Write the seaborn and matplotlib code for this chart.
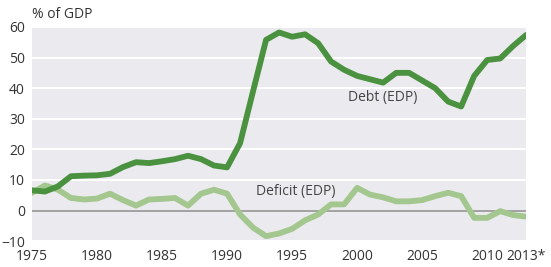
import matplotlib.pyplot as plt
import pandas as pd
import seaborn as sns

years = list(range(1975, 2014))
debt = [6.6, 6.2, 7.9, 11.2, 11.4, 11.5, 12.0, 14.2, 15.8, 15.5,
        16.1, 16.8, 17.9, 16.8, 14.7, 14.1, 22.0, 39.0, 55.8, 58.2,
        56.8, 57.6, 54.7, 48.7, 46.0, 44.0, 42.9, 41.8, 45.0, 45.0,
        42.5, 40.0, 35.6, 34.0, 44.0, 49.2, 49.7, 53.8, 57.4]
deficit = [5.8, 8.2, 6.8, 4.1, 3.6, 3.9, 5.5, 3.4, 1.6, 3.6,
           3.8, 4.1, 1.6, 5.5, 6.8, 5.5, -1.3, -5.6, -8.4, -7.5,
           -6.0, -3.2, -1.3, 2.0, 2.0, 7.4, 5.2, 4.3, 3.0, 3.0,
           3.4, 4.7, 5.8, 4.7, -2.4, -2.4, -0.2, -1.5, -2.0]
xticks = [1975, 1980, 1985, 1990, 1995, 2000, 2005, 2010, 2013]
xlabels = ["1975", "1980", "1985", "1990", "1995", "2000", "2005", "2010", "2013*"]
yticks = [-10, 0, 10, 20, 30, 40, 50, 60]

df = pd.DataFrame({"year": years * 2,
                   "value": debt + deficit,
                   "series": ["Debt (EDP)"] * len(years) + ["Deficit (EDP)"] * len(years)})

sns.set_style("darkgrid", {"axes.facecolor": "#EBEBEF", "grid.color": "white"})
plt.rcParams["font.family"] = ["Open Sans", "DejaVu Sans"]

fig = plt.figure(figsize=(5.51, 2.67), dpi=100)
ax = fig.add_axes([0.058, 0.097, 0.897, 0.802])
ax.axhline(0, color="#9a9a9a", lw=1.3, zorder=1)
sns.lineplot(data=df, x="year", y="value", hue="series",
             palette={"Debt (EDP)": "#4A9140", "Deficit (EDP)": "#A3C78F"},
             hue_order=["Deficit (EDP)", "Debt (EDP)"],
             linewidth=4.2, legend=False, ax=ax, zorder=3)

ax.set_xlim(1975, 2013)
ax.set_ylim(-10, 60)
ax.set_xticks(xticks)
ax.set_xticklabels(xlabels)
ax.set_xticks([1980, 1985, 1990, 1995, 2000, 2005, 2010], minor=True)
ax.set_yticks(yticks)
ax.grid(False)
ax.grid(True, which="major", axis="y", color="white", lw=1.5)
ax.grid(True, which="minor", axis="x", color="white", lw=1.5)
ax.tick_params(axis="both", which="both", length=0, labelsize=10, colors="#333333")
ax.tick_params(axis="x", pad=6)
ax.tick_params(axis="y", pad=5)
ax.set_xlabel("")
ax.set_ylabel("")
for s in ax.spines.values():
    s.set_visible(False)

fig.text(0.058, 0.944, "% of GDP", fontsize=10, color="#333333", va="center")
ax.text(2002.0, 37.0, "Debt (EDP)", fontsize=10, color="#444444", va="center", ha="center", zorder=4)
ax.text(1992.2, 6.2, "Deficit (EDP)", fontsize=10, color="#444444", va="center", ha="left", zorder=4)

fig.savefig("out.png", dpi=100)
